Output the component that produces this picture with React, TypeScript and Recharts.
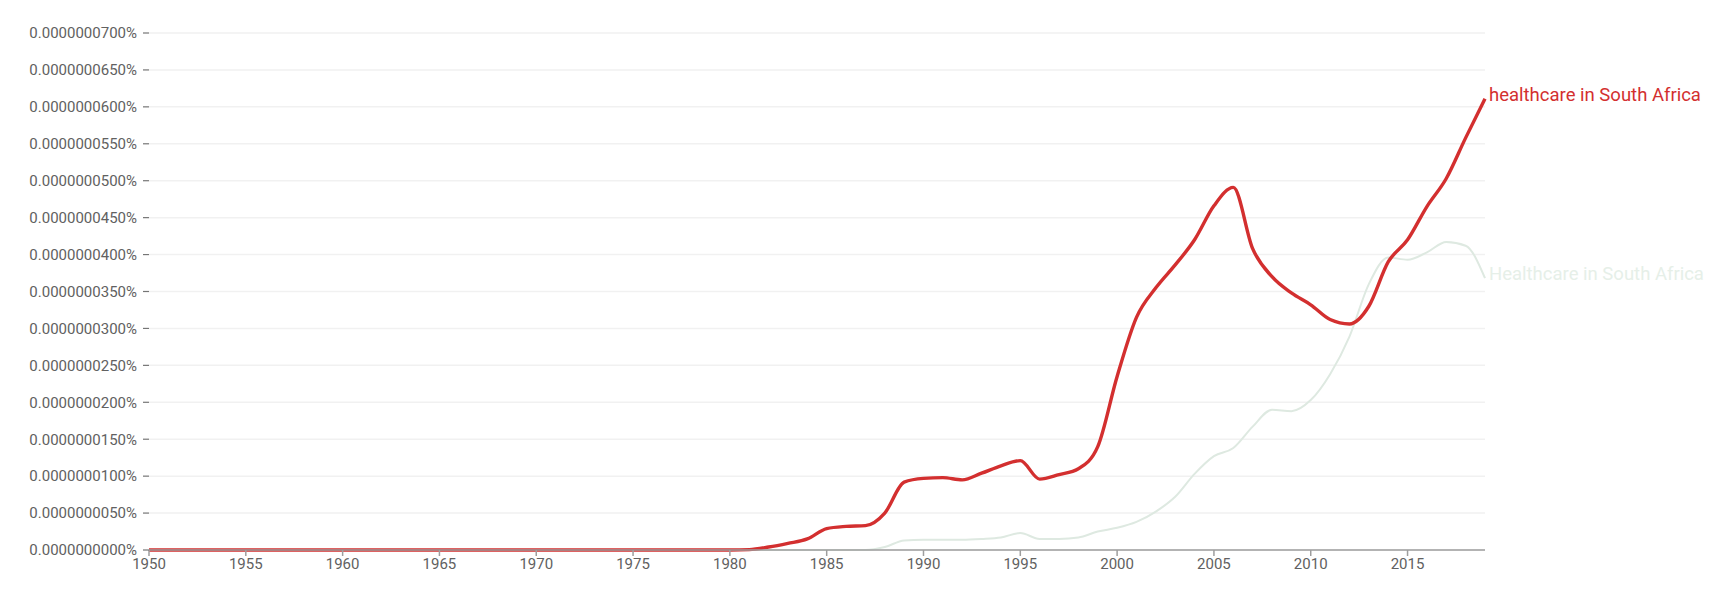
import React from "react";
import { CartesianGrid, Line, LineChart, XAxis, YAxis } from "recharts";

// values are in units of 0.000000001 %
const years = [
  1950, 1951, 1952, 1953, 1954, 1955, 1956, 1957, 1958, 1959,
  1960, 1961, 1962, 1963, 1964, 1965, 1966, 1967, 1968, 1969,
  1970, 1971, 1972, 1973, 1974, 1975, 1976, 1977, 1978, 1979,
  1980, 1981, 1982, 1983, 1984, 1985, 1986, 1987, 1988, 1989,
  1990, 1991, 1992, 1993, 1994, 1995, 1996, 1997, 1998, 1999,
  2000, 2001, 2002, 2003, 2004, 2005, 2006, 2007, 2008, 2009,
  2010, 2011, 2012, 2013, 2014, 2015, 2016, 2017, 2018, 2019,
];

const lowerCase = [
  0, 0, 0, 0, 0, 0, 0, 0, 0, 0,
  0, 0, 0, 0, 0, 0, 0, 0, 0, 0,
  0, 0, 0, 0, 0, 0, 0, 0, 0, 0,
  0, 0.05, 0.4, 0.9, 1.5, 2.9, 3.2, 3.3, 5.0, 9.2,
  9.7, 9.8, 9.5, 10.4, 11.4, 12.1, 9.6, 10.2, 11.0, 14.0,
  23.5, 31.5, 35.5, 38.6, 42.0, 46.6, 49.1, 40.8, 37.0, 34.8,
  33.2, 31.2, 30.6, 33.0, 39.0, 42.0, 46.5, 50.3, 55.8, 61.1,
];

const capitalized = [
  0, 0, 0, 0, 0, 0, 0, 0, 0, 0,
  0, 0, 0, 0, 0, 0, 0, 0, 0, 0,
  0, 0, 0, 0, 0, 0, 0, 0, 0, 0,
  0, 0, 0, 0, 0, 0, 0, 0, 0.4, 1.3,
  1.4, 1.4, 1.4, 1.5, 1.7, 2.3, 1.5, 1.5, 1.7, 2.5,
  3.0, 3.8, 5.2, 7.2, 10.3, 12.7, 13.8, 16.7, 19.0, 18.8,
  20.3, 23.8, 28.9, 36.0, 39.6, 39.3, 40.3, 41.7, 41.2, 36.8,
];

const xTicks = [1950, 1955, 1960, 1965, 1970, 1975, 1980, 1985, 1990, 1995, 2000, 2005, 2010, 2015];
const yTicks = [0, 5, 10, 15, 20, 25, 30, 35, 40, 45, 50, 55, 60, 65, 70];

const RED = "#d32f2f";
const PALE = "#dee9e1";

const data = years.map((year, i) => ({ year, lower: lowerCase[i], upper: capitalized[i] }));

function endLabel(text: string, color: string) {
  return (props: any) => {
    if (props.index !== years.length - 1) return null;
    return (
      <text x={props.x + 4} y={props.y + 2} fill={color} fontSize={18.5} fontFamily="Roboto">
        {text}
      </text>
    );
  };
}

export default function App() {
  return (
    <div style={{ position: "absolute", left: 0, top: 0, background: "#fff", fontFamily: "Roboto" }}>
      <LineChart width={1720} height={591} data={data} margin={{ top: 33, right: 235, bottom: 0, left: 0 }}>
        <CartesianGrid stroke="#f1f1f1" strokeWidth={1.5} vertical={false} />
        <XAxis
          dataKey="year"
          type="number"
          domain={[1950, 2019]}
          ticks={xTicks}
          height={41}
          tick={{ fill: "#616161", fontSize: 15 }}
          tickLine={{ stroke: "#9e9e9e", strokeWidth: 1.5 }}
          axisLine={{ stroke: "#9e9e9e", strokeWidth: 1.5 }}
          tickSize={6}
          tickMargin={2}
        />
        <YAxis
          type="number"
          domain={[0, 70]}
          ticks={yTicks}
          width={149}
          tick={{ fill: "#616161", fontSize: 15 }}
          tickFormatter={(v) => `${(v * 1e-9).toFixed(10)}%`}
          tickLine={{ stroke: "#757575", strokeWidth: 1.2 }}
          axisLine={false}
          tickSize={6}
          tickMargin={6}
        />
        <Line type="monotone" dataKey="upper" stroke={PALE} strokeWidth={2} dot={false} isAnimationActive={false} label={endLabel("Healthcare in South Africa", "#e6efe8")} />
        <Line type="monotone" dataKey="lower" stroke={RED} strokeWidth={3.4} dot={false} isAnimationActive={false} label={endLabel("healthcare in South Africa", RED)} />
      </LineChart>
    </div>
  );
}
